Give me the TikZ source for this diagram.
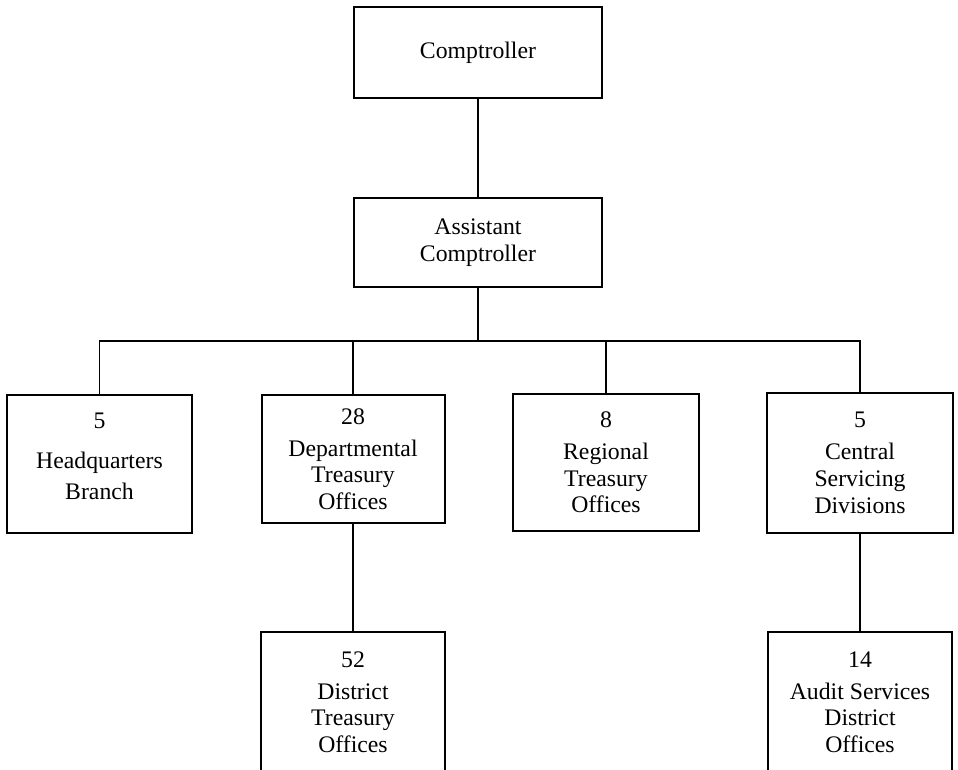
\documentclass[tikz,border=0pt]{standalone}
\usepackage{fontspec}
\setmainfont{Liberation Serif}
\begin{document}
\begin{tikzpicture}[x=0.75pt,y=-0.75pt,
  orgbox/.style={draw=black, line width=1.5pt, fill=white, inner sep=0pt,
    align=center, font=\fontsize{17.8}{20}\selectfont},
  link/.style={draw=black, line width=1.4pt}]
  \useasboundingbox (0,0) rectangle (958,769);

  % top of the chart
  \node[orgbox, minimum width=248*0.75pt, minimum height=91*0.75pt] (comp) at (478,52.5) {Comptroller};
  \node[orgbox, minimum width=248*0.75pt, minimum height=89*0.75pt] (asst) at (478,242.5) {Assistant\\Comptroller};

  % second level
  \node[orgbox, minimum width=185*0.75pt, minimum height=138*0.75pt] (hq) at (99.5,464) {5\\[10pt]Headquarters\\[3pt]Branch\\[-14pt]\strut};
  \node[orgbox, minimum width=183*0.75pt, minimum height=128*0.75pt] (dept) at (353,459) {28\\[4pt]Departmental\\Treasury\\Offices};
  \node[orgbox, minimum width=186*0.75pt, minimum height=137*0.75pt] (reg) at (606,462.5) {8\\[4pt]Regional\\Treasury\\Offices};
  \node[orgbox, minimum width=186*0.75pt, minimum height=140*0.75pt] (cent) at (860,463) {5\\[4pt]Central\\Servicing\\Divisions};

  % third level
  \node[orgbox, minimum width=184*0.75pt, minimum height=140*0.75pt] (dist) at (353,702) {52\\[4pt]District\\Treasury\\Offices};
  \node[orgbox, minimum width=184*0.75pt, minimum height=140*0.75pt] (audit) at (860,702) {14\\[4pt]Audit Services\\District\\Offices};

  % connectors
  \coordinate (bus) at (478,341);
  \draw[link] (comp.south) -- (asst.north);
  \draw[link] (asst.south) -- (bus);
  \draw[link] (hq.north) |- (bus) -| (cent.north);
  \draw[link] (dept.north) -- (dept.north |- bus);
  \draw[link] (reg.north) -- (reg.north |- bus);
  \draw[link] (dept.south) -- (dist.north);
  \draw[link] (cent.south) -- (audit.north);
\end{tikzpicture}
\end{document}
